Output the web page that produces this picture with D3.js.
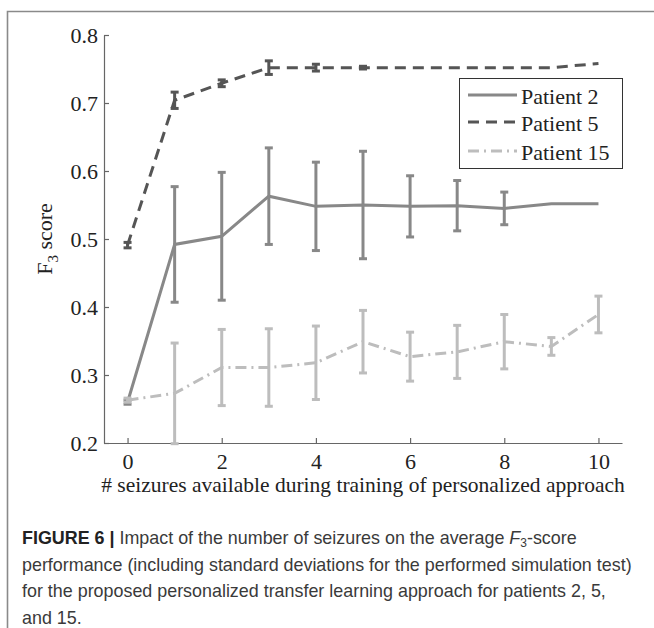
<!DOCTYPE html>
<html>
<head>
<meta charset="utf-8">
<script src="https://cdn.jsdelivr.net/npm/d3@7/dist/d3.min.js"></script>
<style>
  html, body { margin: 0; padding: 0; background: #fff; }
  svg { display: block; }
</style>
</head>
<body>
<svg id="chart" width="654" height="628"></svg>
<script>
// ---- Data ----
const seizures = [0, 1, 2, 3, 4, 5, 6, 7, 8, 9, 10];
const patient2Mean = [0.260, 0.492, 0.504, 0.563, 0.548, 0.550, 0.548, 0.549, 0.545, 0.552, 0.552];
const patient2Std  = [0.003, 0.085, 0.094, 0.071, 0.065, 0.079, 0.045, 0.037, 0.024, 0.000, 0.000];
const patient5Mean = [0.491, 0.704, 0.729, 0.752, 0.752, 0.752, 0.752, 0.752, 0.752, 0.752, 0.758];
const patient5Std  = [0.004, 0.012, 0.005, 0.010, 0.005, 0.002, 0.000, 0.000, 0.000, 0.000, 0.000];
const patient15Mean = [0.263, 0.273, 0.311, 0.311, 0.318, 0.349, 0.327, 0.334, 0.349, 0.342, 0.389];
const patient15Std  = [0.003, 0.074, 0.056, 0.057, 0.054, 0.046, 0.036, 0.039, 0.040, 0.013, 0.027];
const seriesNames = ["Patient 2", "Patient 5", "Patient 15"];
const xTicks = [0, 2, 4, 6, 8, 10];
const yTicks = [0.2, 0.3, 0.4, 0.5, 0.6, 0.7, 0.8];

const series = [
  { name: seriesNames[0], mean: patient2Mean, std: patient2Std, color: "#888888", dash: null },
  { name: seriesNames[1], mean: patient5Mean, std: patient5Std, color: "#555555", dash: "11,7" },
  { name: seriesNames[2], mean: patient15Mean, std: patient15Std, color: "#bdbdbd", dash: "11,5,2,5" }
];

const svg = d3.select("#chart");
const serif = "'Liberation Serif', 'Times New Roman', serif";
const sans = "'Liberation Sans', Arial, Helvetica, sans-serif";

// outer frame (top + left rule)
svg.append("path")
  .attr("d", "M7.5,628 L7.5,11.5 L654,11.5")
  .attr("fill", "none").attr("stroke", "#8a8a8a").attr("stroke-width", 1.6);

const x = d3.scaleLinear().domain([-0.5, 10.5]).range([104, 622]);
const y = d3.scaleLinear().domain([0.2, 0.8]).range([443, 35]);

// axes
const yAxis = d3.axisLeft(y).tickValues(yTicks).tickFormat(d3.format(".1f"))
  .tickSizeInner(-5).tickSizeOuter(0).tickPadding(6);
const xAxis = d3.axisBottom(x).tickValues(xTicks).tickFormat(d3.format("d"))
  .tickSizeInner(-5).tickSizeOuter(0).tickPadding(10);

const gy = svg.append("g").attr("transform", `translate(${x.range()[0]},0)`).call(yAxis);
const gx = svg.append("g").attr("transform", `translate(0,${y.range()[0]})`).call(xAxis);
[gx, gy].forEach(g => {
  g.attr("font-family", serif).attr("font-size", 22);
  g.selectAll("path, line").attr("stroke", "#666").attr("stroke-width", 1.2);
  g.selectAll("text").style("font-family", serif).style("font-size", "22px").attr("fill", "#222");
});

// axis titles
svg.append("text")
  .attr("x", x(5)).attr("y", 492)
  .attr("text-anchor", "middle")
  .style("font-family", serif).style("font-size", "21.5px").attr("fill", "#222")
  .text("# seizures available during training of personalized approach");

const yt = svg.append("text")
  .attr("transform", `translate(52,${(y.range()[0] + y.range()[1]) / 2}) rotate(-90)`)
  .attr("text-anchor", "middle")
  .style("font-family", serif).style("font-size", "22px").attr("fill", "#222");
yt.append("tspan").text("F");
yt.append("tspan").style("font-size", "15px").attr("dy", 6).text("3");
yt.append("tspan").attr("dy", -6).text(" score");

// series lines and error bars
const line = d3.line().x((d, i) => x(seizures[i])).y(d => y(d));
const capW = 4;
series.forEach(s => {
  const g = svg.append("g");
  g.append("path")
    .attr("d", line(s.mean))
    .attr("fill", "none").attr("stroke", s.color).attr("stroke-width", 3)
    .attr("stroke-dasharray", s.dash);
  seizures.forEach((sx, i) => {
    if (s.std[i] <= 0) return;
    const cx = x(sx), lo = y(s.mean[i] - s.std[i]), hi = y(s.mean[i] + s.std[i]);
    const eb = g.append("g").attr("stroke", s.color).attr("stroke-width", 3).attr("fill", "none");
    eb.append("line").attr("x1", cx).attr("x2", cx).attr("y1", lo).attr("y2", hi);
    eb.append("line").attr("x1", cx - capW).attr("x2", cx + capW).attr("y1", lo).attr("y2", lo);
    eb.append("line").attr("x1", cx - capW).attr("x2", cx + capW).attr("y1", hi).attr("y2", hi);
  });
});

// legend
const lg = svg.append("g");
lg.append("rect").attr("x", 459.5).attr("y", 78.5).attr("width", 163).attr("height", 90)
  .attr("fill", "#fff").attr("stroke", "#333").attr("stroke-width", 1);
const legendY = [95, 122, 151];
series.forEach((s, i) => {
  lg.append("line").attr("x1", 468).attr("x2", 517).attr("y1", legendY[i]).attr("y2", legendY[i])
    .attr("stroke", s.color).attr("stroke-width", 3).attr("stroke-dasharray", s.dash);
  lg.append("text").attr("x", 521).attr("y", legendY[i] + 8.5)
    .style("font-family", serif).style("font-size", "22px").attr("fill", "#222")
    .text(s.name);
});

// caption
const capLines = [
  null,
  "performance (including standard deviations for the performed simulation test)",
  "for the proposed personalized transfer learning approach for patients 2, 5,",
  "and 15."
];
const capY = [544, 570.5, 597, 623.5];
const cap = svg.append("g").style("font-family", sans).style("font-size", "17.9px").attr("fill", "#3a3a3a");
const t1 = cap.append("text").attr("x", 22).attr("y", capY[0]);
t1.append("tspan").attr("font-weight", "bold").attr("fill", "#222").text("FIGURE 6 |");
t1.append("tspan").text(" Impact of the number of seizures on the average ");
t1.append("tspan").attr("font-style", "italic").text("F");
t1.append("tspan").style("font-size", "12px").attr("dy", 3).text("3");
t1.append("tspan").attr("dy", -3).text("-score");
capLines.forEach((l, i) => {
  if (!l) return;
  cap.append("text").attr("x", 22).attr("y", capY[i]).text(l);
});
</script>
</body>
</html>
